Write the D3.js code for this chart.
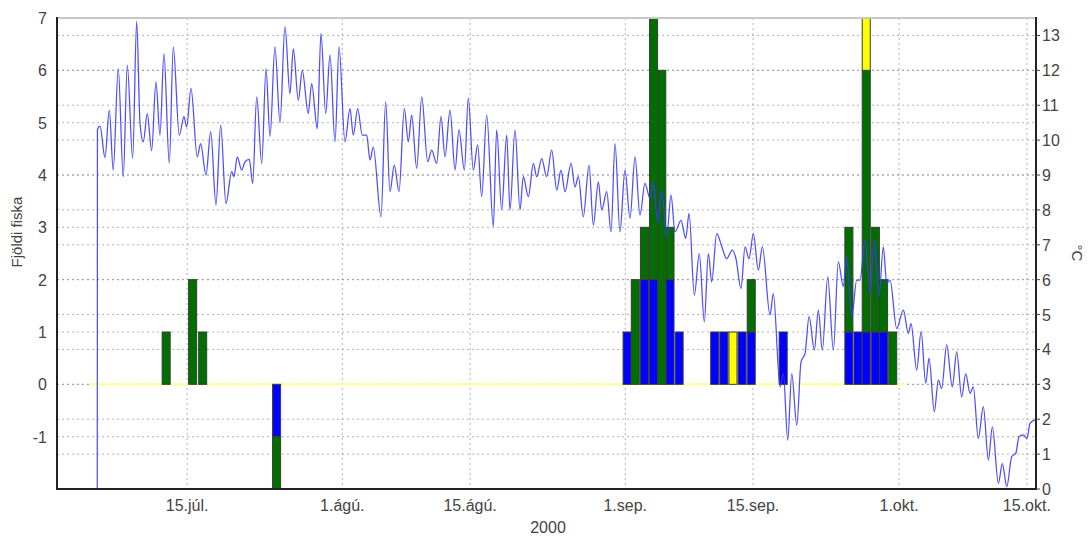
<!DOCTYPE html>
<html>
<head>
<meta charset="utf-8">
<script src="https://cdn.jsdelivr.net/npm/d3@7/dist/d3.min.js"></script>
<style>
  body { margin: 0; background: #fff; }
  text { font-family: "Liberation Sans", Arial, sans-serif; }
</style>
</head>
<body>
<svg id="chart" width="1091" height="536"></svg>
<script>
// days counted from 1 Jul 2000 00:00
var xTickDays   = [14, 31, 45, 62, 76, 92, 106];
var xTickLabels = ["15.júl.", "1.ágú.", "15.ágú.", "1.sep.", "15.sep.", "1.okt.", "15.okt."];
var fishTicks = [-1, 0, 1, 2, 3, 4, 5, 6, 7];
var tempTicks = [0, 1, 2, 3, 4, 5, 6, 7, 8, 9, 10, 11, 12, 13];

// fish counts per day (stacked: blue, green, yellow), bar centres
var barDays    = [11.7, 14.6, 15.7, 23.8, 62.2, 63.1, 64.1, 65.1, 66.0, 66.9, 67.9, 71.8, 72.8, 73.8, 74.8, 75.8, 79.3, 86.5, 87.5, 88.4, 89.4, 90.3, 91.3];
var blueFish   = [ 0,  0,  0, -1,  1,  0,  2,  2,  0,  2,  1,  1,  1,  0,  1,  1,  1,  1,  1,  1,  1,  1,  0];
var greenFish  = [ 1,  2,  1, -1,  0,  2,  1,  5,  6,  1,  0,  0,  0,  0,  0,  1,  0,  2,  0,  5,  2,  1,  1];
var yellowFish = [ 0,  0,  0,  0,  0,  0,  0,  0,  0,  0,  0,  0,  0,  1,  0,  0,  0,  0,  0,  1,  0,  0,  0];
var fishFirstDay = 3.3, fishLastDay = 92.6;

// water temperature [day, °C]
var temperature = [[4.15,0],[4.17,10.3],[4.45,10.4],[5.0,9.5],[5.47,10.86],[5.9,9.14],[6.45,12.05],[7.0,8.95],[7.44,12.15],[8.03,9.48],[8.47,13.4],[8.83,10.5],[9.19,9.95],[9.63,10.76],[10.11,9.7],[10.58,11.67],[11.02,10.14],[11.46,12.48],[12.04,9.33],[12.48,12.67],[13.14,10.14],[13.65,10.67],[13.95,10.38],[14.42,11.48],[15.11,9.52],[15.48,9.9],[16.06,9.0],[16.58,10.24],[17.16,8.14],[17.67,10.43],[18.25,8.18],[18.88,9.1],[19.13,8.95],[19.49,9.52],[19.97,9.14],[20.34,9.38],[20.81,9.45],[21.18,8.76],[21.62,11.24],[22.17,9.33],[22.64,12.05],[23.08,10.1],[23.62,12.67],[24.17,10.5],[24.72,13.25],[25.26,11.33],[25.63,12.62],[26.18,11.14],[26.61,12.0],[27.27,10.76],[27.64,11.62],[28.26,10.33],[28.66,13.06],[29.18,10.76],[29.65,12.44],[30.2,9.95],[30.64,12.67],[31.29,9.95],[31.84,10.9],[32.2,10.14],[32.68,10.9],[33.19,10.14],[33.67,10.14],[34.03,9.43],[34.39,9.8],[35.24,7.8],[35.75,11.1],[36.22,8.52],[36.69,9.28],[37.21,8.52],[37.79,10.9],[38.23,9.95],[38.6,10.72],[39.15,9.19],[39.7,11.24],[40.35,9.38],[40.79,9.71],[41.34,9.33],[41.81,10.67],[42.25,9.52],[42.8,10.86],[43.35,9.14],[43.78,10.29],[44.37,9.14],[44.8,11.2],[45.35,9.14],[45.83,9.86],[46.27,8.38],[46.82,10.72],[47.54,7.52],[47.91,10.29],[48.46,8.0],[49.01,10.14],[49.37,8.0],[49.92,10.29],[50.47,8.0],[50.83,8.95],[51.38,8.38],[51.93,9.33],[52.3,8.95],[52.85,9.47],[53.39,8.95],[53.94,9.71],[54.49,8.57],[54.96,9.14],[55.4,8.52],[56.06,9.33],[56.49,8.66],[56.86,8.95],[57.4,7.8],[58.03,9.28],[58.5,7.56],[59.05,8.8],[59.42,8.0],[59.97,8.52],[60.44,7.37],[60.88,9.9],[61.42,7.37],[61.97,9.14],[62.52,7.76],[63.07,9.52],[63.61,7.85],[64.16,8.76],[64.71,8.33],[65.07,8.8],[65.56,7.61],[65.99,8.57],[66.54,7.23],[67.01,8.42],[67.45,7.37],[68.11,7.7],[68.62,7.18],[68.99,7.9],[69.57,5.56],[70.11,6.75],[70.66,4.79],[71.1,6.75],[71.47,5.94],[72.02,7.32],[72.57,6.95],[73.11,6.6],[73.73,6.85],[74.13,6.6],[74.68,5.75],[75.12,6.94],[75.56,6.6],[76.03,7.32],[76.58,6.27],[77.02,6.94],[77.86,4.99],[78.22,5.6],[78.96,2.93],[79.32,3.31],[79.8,1.4],[80.24,3.31],[80.79,1.83],[81.26,3.65],[81.7,3.89],[82.14,4.94],[82.72,3.98],[83.15,5.13],[83.59,3.98],[84.18,6.08],[84.8,3.98],[85.34,6.51],[85.89,5.8],[86.26,6.65],[86.81,4.94],[87.36,5.99],[87.72,5.99],[88.27,7.13],[88.82,5.6],[89.29,7.13],[89.8,5.51],[90.27,6.94],[90.65,5.89],[91.01,5.99],[91.74,4.6],[92.47,5.13],[93.01,4.46],[93.31,4.74],[93.93,3.41],[94.41,4.51],[94.92,3.03],[95.28,3.75],[95.86,2.21],[96.3,3.12],[96.67,2.88],[97.21,4.13],[97.83,2.93],[98.31,3.93],[98.86,2.64],[99.3,3.31],[99.77,2.74],[100.13,2.93],[100.68,1.45],[101.23,2.36],[101.78,0.83],[102.22,1.78],[102.88,0.16],[103.31,0.73],[103.8,0.07],[104.34,0.93],[104.78,1.02],[105.14,1.5],[105.61,1.55],[105.99,1.45],[106.35,1.88],[106.9,1.98]];

var svg = d3.select("#chart");
var plotL = 57, plotR = 1036, plotT = 18, plotB = 489;

var x = d3.scaleLinear().domain([-0.26, 107]).range([plotL, plotR]);
var yFish = d3.scaleLinear().domain([-2, 7]).range([plotB, plotT]);
var yTemp = d3.scaleLinear().domain([0, 13.5]).range([plotB, plotT]);

svg.append("defs").append("clipPath").attr("id", "plot")
  .append("rect").attr("x", plotL).attr("y", plotT).attr("width", plotR - plotL).attr("height", plotB - plotT);

// grid
var grid = svg.append("g").attr("stroke", "#8a8a8a").attr("stroke-opacity", 0.65)
  .attr("stroke-dasharray", "2,3").attr("fill", "none");
grid.selectAll(".gf").data(fishTicks).enter().append("line")
  .attr("x1", plotL).attr("x2", plotR)
  .attr("y1", function(d){ return yFish(d); }).attr("y2", function(d){ return yFish(d); });
grid.selectAll(".gt").data(tempTicks).enter().append("line")
  .attr("x1", plotL).attr("x2", plotR)
  .attr("y1", function(d){ return yTemp(d); }).attr("y2", function(d){ return yTemp(d); });
grid.selectAll(".gx").data(xTickDays).enter().append("line")
  .attr("y1", plotT).attr("y2", plotB)
  .attr("x1", function(d){ return x(d); }).attr("x2", function(d){ return x(d); });

var plot = svg.append("g").attr("clip-path", "url(#plot)");

// yellow zero line of the fish series
plot.append("line")
  .attr("x1", x(fishFirstDay)).attr("x2", x(fishLastDay))
  .attr("y1", yFish(0)).attr("y2", yFish(0))
  .attr("stroke", "#ffff90").attr("stroke-width", 2);

// stacked bars
var series = [
  {vals: blueFish, color: "#0000ff"},
  {vals: greenFish, color: "#006f00"},
  {vals: yellowFish, color: "#ffff00"}
];
var barW = 0.88 * (x(1) - x(0));
var pos = barDays.map(function(){ return 0; });
var neg = barDays.map(function(){ return 0; });
series.forEach(function(s){
  var rects = [];
  s.vals.forEach(function(v, i){
    if (v === 0) return;
    var y0, y1;
    if (v > 0) { y0 = pos[i]; y1 = pos[i] + v; pos[i] = y1; }
    else { y0 = neg[i]; y1 = neg[i] + v; neg[i] = y1; }
    rects.push({day: barDays[i], y0: y0, y1: y1});
  });
  plot.selectAll(null).data(rects).enter().append("rect")
    .attr("x", function(d){ return x(d.day) - barW / 2; })
    .attr("width", barW)
    .attr("y", function(d){ return yFish(Math.max(d.y0, d.y1)); })
    .attr("height", function(d){ return Math.abs(yFish(d.y0) - yFish(d.y1)); })
    .attr("fill", s.color)
    .attr("stroke", "#3a3a3a").attr("stroke-width", 1);
});

// temperature line
var line = d3.line()
  .x(function(d){ return x(d[0]); })
  .y(function(d){ return yTemp(d[1]); })
  .curve(d3.curveMonotoneX);
plot.append("path").datum(temperature)
  .attr("d", line)
  .attr("fill", "none").attr("stroke", "#3a3aff").attr("stroke-width", 1.25)
  .attr("stroke-opacity", 0.9);

// frame
svg.append("line").attr("x1", plotL).attr("x2", plotR).attr("y1", plotT).attr("y2", plotT)
  .attr("stroke", "#c8c8c8").attr("stroke-width", 2);
svg.append("line").attr("x1", plotL).attr("x2", plotL).attr("y1", plotT - 1).attr("y2", plotB + 1)
  .attr("stroke", "#222").attr("stroke-width", 2);
svg.append("line").attr("x1", plotR).attr("x2", plotR).attr("y1", plotT - 1).attr("y2", plotB + 1)
  .attr("stroke", "#222").attr("stroke-width", 2);
svg.append("line").attr("x1", plotL).attr("x2", plotR).attr("y1", plotB).attr("y2", plotB)
  .attr("stroke", "#222").attr("stroke-width", 2);

// axis labels
var lab = svg.append("g").attr("fill", "#444").attr("font-size", 16);
lab.selectAll(".lf").data(fishTicks).enter().append("text")
  .attr("x", 47).attr("y", function(d){ return yFish(d) + 6; })
  .attr("text-anchor", "end").text(function(d){ return d; });
svg.append("g").selectAll("line").data(tempTicks).enter().append("line")
  .attr("x1", plotR).attr("x2", plotR + 4)
  .attr("y1", function(d){ return yTemp(d); }).attr("y2", function(d){ return yTemp(d); })
  .attr("stroke", "#444");
lab.selectAll(".lt").data(tempTicks).enter().append("text")
  .attr("x", plotR + 6).attr("y", function(d){ return yTemp(d) + 6; })
  .text(function(d){ return d; });
lab.selectAll(".lx").data(xTickDays).enter().append("text")
  .attr("x", function(d){ return x(d); }).attr("y", 511)
  .attr("text-anchor", "middle")
  .text(function(d, i){ return xTickLabels[i]; });
lab.append("text").attr("x", 548).attr("y", 533).attr("text-anchor", "middle").text("2000");
lab.append("text").attr("transform", "translate(22,232) rotate(-90)")
  .attr("text-anchor", "middle").attr("font-size", 15).text("Fjöldi fiska");
lab.append("text").attr("transform", "translate(1072,253) rotate(90)")
  .attr("text-anchor", "middle").attr("font-size", 15).text("°C");
</script>
</body>
</html>
